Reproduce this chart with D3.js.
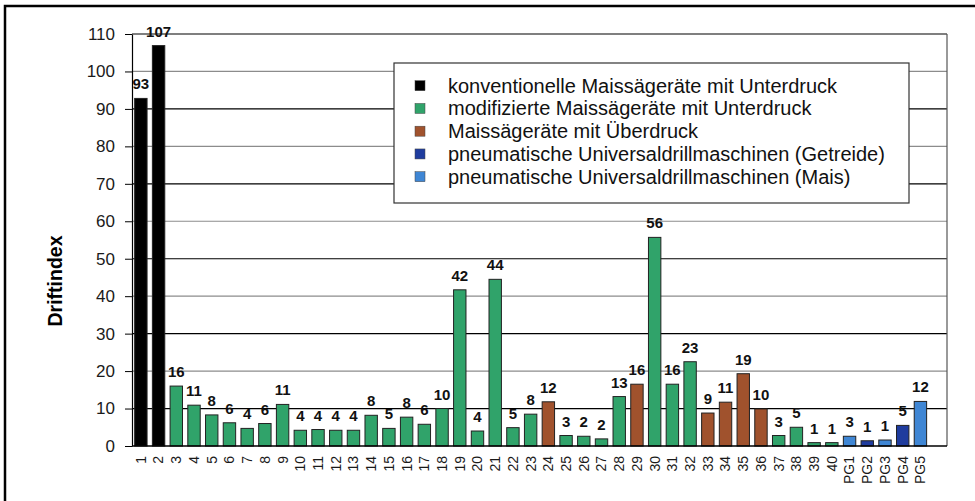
<!DOCTYPE html>
<html>
<head>
<meta charset="utf-8">
<script src="https://cdn.jsdelivr.net/npm/d3@7"></script>
<style>
body { margin: 0; background: #fff; }
svg text { font-family: Arial, "Liberation Sans", sans-serif; }
</style>
</head>
<body>
<svg id="chart" width="975" height="501"></svg>
<script>
// dati
const categorie = ["1","2","3","4","5","6","7","8","9","10","11","12","13","14","15","16","17","18","19","20",
  "21","22","23","24","25","26","27","28","29","30","31","32","33","34","35","36","37","38","39","40",
  "PG1","PG2","PG3","PG4","PG5"]
const valori = [92.8,106.9,16.0,10.9,8.3,6.2,4.7,6.0,11.1,4.2,4.4,4.2,4.2,8.2,4.7,7.7,5.8,10.0,41.7,4.0,
  44.5,4.9,8.5,11.8,2.8,2.6,1.9,13.2,16.5,55.7,16.5,22.5,8.8,11.7,19.3,9.9,2.8,5.0,0.9,0.9,
  2.6,1.4,1.6,5.5,11.9]
const etichette = ["93","107","16","11","8","6","4","6","11","4","4","4","4","8","5","8","6","10","42","4",
  "44","5","8","12","3","2","2","13","16","56","16","23","9","11","19","10","3","5","1","1",
  "3","1","1","5","12"]
// gruppo di ogni barra (indice in serie)
const gruppi = [0,0,1,1,1,1,1,1,1,1,1,1,1,1,1,1,1,1,1,1,
  1,1,1,2,1,1,1,1,2,1,1,1,2,2,2,2,1,1,1,1,
  4,3,4,3,4]
const serie = ["konventionelle Maissägeräte mit Unterdruck",
  "modifizierte Maissägeräte mit Unterdruck",
  "Maissägeräte mit Überdruck",
  "pneumatische Universaldrillmaschinen (Getreide)",
  "pneumatische Universaldrillmaschinen (Mais)"]
const tickY = [0,10,20,30,40,50,60,70,80,90,100,110]

const colori = ["#000000", "#30a36a", "#a0522d", "#1f3c9e", "#3f86d4"]

const svg = d3.select("#chart")
const pLeft = 132, pRight = 947, pTop = 34, pBottom = 446

const x = d3.scaleBand()
  .domain(categorie)
  .range([pLeft, pRight - (pRight - pLeft) / 46]) // ultimo posto vuoto
  .paddingInner(0.3)
  .paddingOuter(0.15)
const y = d3.scaleLinear().domain([0, 110]).range([pBottom, pTop])
const colore = d3.scaleOrdinal().domain(d3.range(serie.length)).range(colori)

const data = categorie.map((c, i) => ({ cat: c, val: valori[i], lab: etichette[i], g: gruppi[i] }))

// bordo esterno (tagliato a destra e in basso)
svg.append("rect")
  .attr("x", 5).attr("y", 6)
  .attr("width", 1000).attr("height", 1000)
  .attr("fill", "none").attr("stroke", "#000").attr("stroke-width", 2.5)

// griglia: linee alternate nere e grigie
svg.append("g").selectAll("line")
  .data(tickY.filter(t => t > 0)).enter()
  .append("line")
  .attr("x1", pLeft).attr("x2", pRight)
  .attr("y1", d => y(d)).attr("y2", d => y(d))
  .attr("stroke", d => (d / 10) % 2 == 1 ? "#000" : "#8c8c8c")
  .attr("stroke-width", 1.2)

// lato destro
svg.append("line")
  .attr("x1", pRight).attr("x2", pRight)
  .attr("y1", y(110)).attr("y2", y(0))
  .attr("stroke", "#555").attr("stroke-width", 1.2)

// barre
svg.selectAll("rect.bar")
  .data(data).enter()
  .append("rect")
  .attr("class", "bar")
  .attr("x", d => x(d.cat))
  .attr("y", d => y(d.val))
  .attr("width", x.bandwidth())
  .attr("height", d => y(0) - y(d.val))
  .attr("fill", d => colore(d.g))
  .attr("stroke", "#222")
  .attr("stroke-width", 1)

// etichette valori
svg.selectAll("text.val")
  .data(data).enter()
  .append("text")
  .attr("class", "val")
  .attr("x", d => x(d.cat) + x.bandwidth() / 2)
  .attr("y", d => y(d.val) - 9)
  .attr("text-anchor", "middle")
  .attr("font-size", "15px")
  .attr("font-weight", "bold")
  .attr("fill", "#111")
  .text(d => d.lab)

// asse y
const asseY = svg.append("g")
  .attr("transform", `translate(${pLeft},0)`)
  .call(d3.axisLeft(y).tickValues(tickY).tickSize(7).tickSizeOuter(0).tickPadding(10))
asseY.select(".domain").attr("stroke", "#000").attr("stroke-width", 1.2)
asseY.selectAll(".tick line").attr("stroke", "#000")
asseY.selectAll("text").attr("font-size", "17px").attr("fill", "#1a1a1a")
  .style("font-family", "Arial, 'Liberation Sans', sans-serif")

// asse x
const asseX = svg.append("g")
  .attr("transform", `translate(0,${pBottom})`)
  .call(d3.axisBottom(x).tickSize(0).tickPadding(0))
asseX.select(".domain").remove()
asseX.selectAll("text")
  .attr("font-size", "14px").attr("fill", "#1a1a1a")
  .style("font-family", "Arial, 'Liberation Sans', sans-serif")
  .attr("text-anchor", "end")
  .attr("transform", "translate(0,10) rotate(-90)")
  .attr("x", 0).attr("y", 0).attr("dy", "0.35em")
svg.append("line")
  .attr("x1", pLeft).attr("x2", pRight)
  .attr("y1", pBottom).attr("y2", pBottom)
  .attr("stroke", "#000").attr("stroke-width", 1.5)

// titolo asse
svg.append("text")
  .attr("transform", "translate(62,281) rotate(-90)")
  .attr("text-anchor", "middle")
  .attr("font-size", "19.5px")
  .attr("font-weight", "bold")
  .text("Driftindex")

// legenda
const leg = svg.append("g").attr("transform", "translate(394,63)")
leg.append("rect")
  .attr("width", 515).attr("height", 140)
  .attr("fill", "#fff").attr("stroke", "#333").attr("stroke-width", 1.2)
const voci = leg.selectAll("g.voce")
  .data(serie).enter()
  .append("g")
  .attr("class", "voce")
  .attr("transform", (d, i) => `translate(0,${22.7 + i * 22.75})`)
voci.append("rect")
  .attr("x", 21).attr("y", -5)
  .attr("width", 10).attr("height", 10)
  .attr("fill", (d, i) => colore(i))
  .attr("stroke", "#444").attr("stroke-width", 0.5)
voci.append("text")
  .attr("x", 54).attr("dy", "0.35em")
  .attr("font-size", "20px")
  .attr("fill", "#111")
  .text(d => d)
</script>
</body>
</html>
